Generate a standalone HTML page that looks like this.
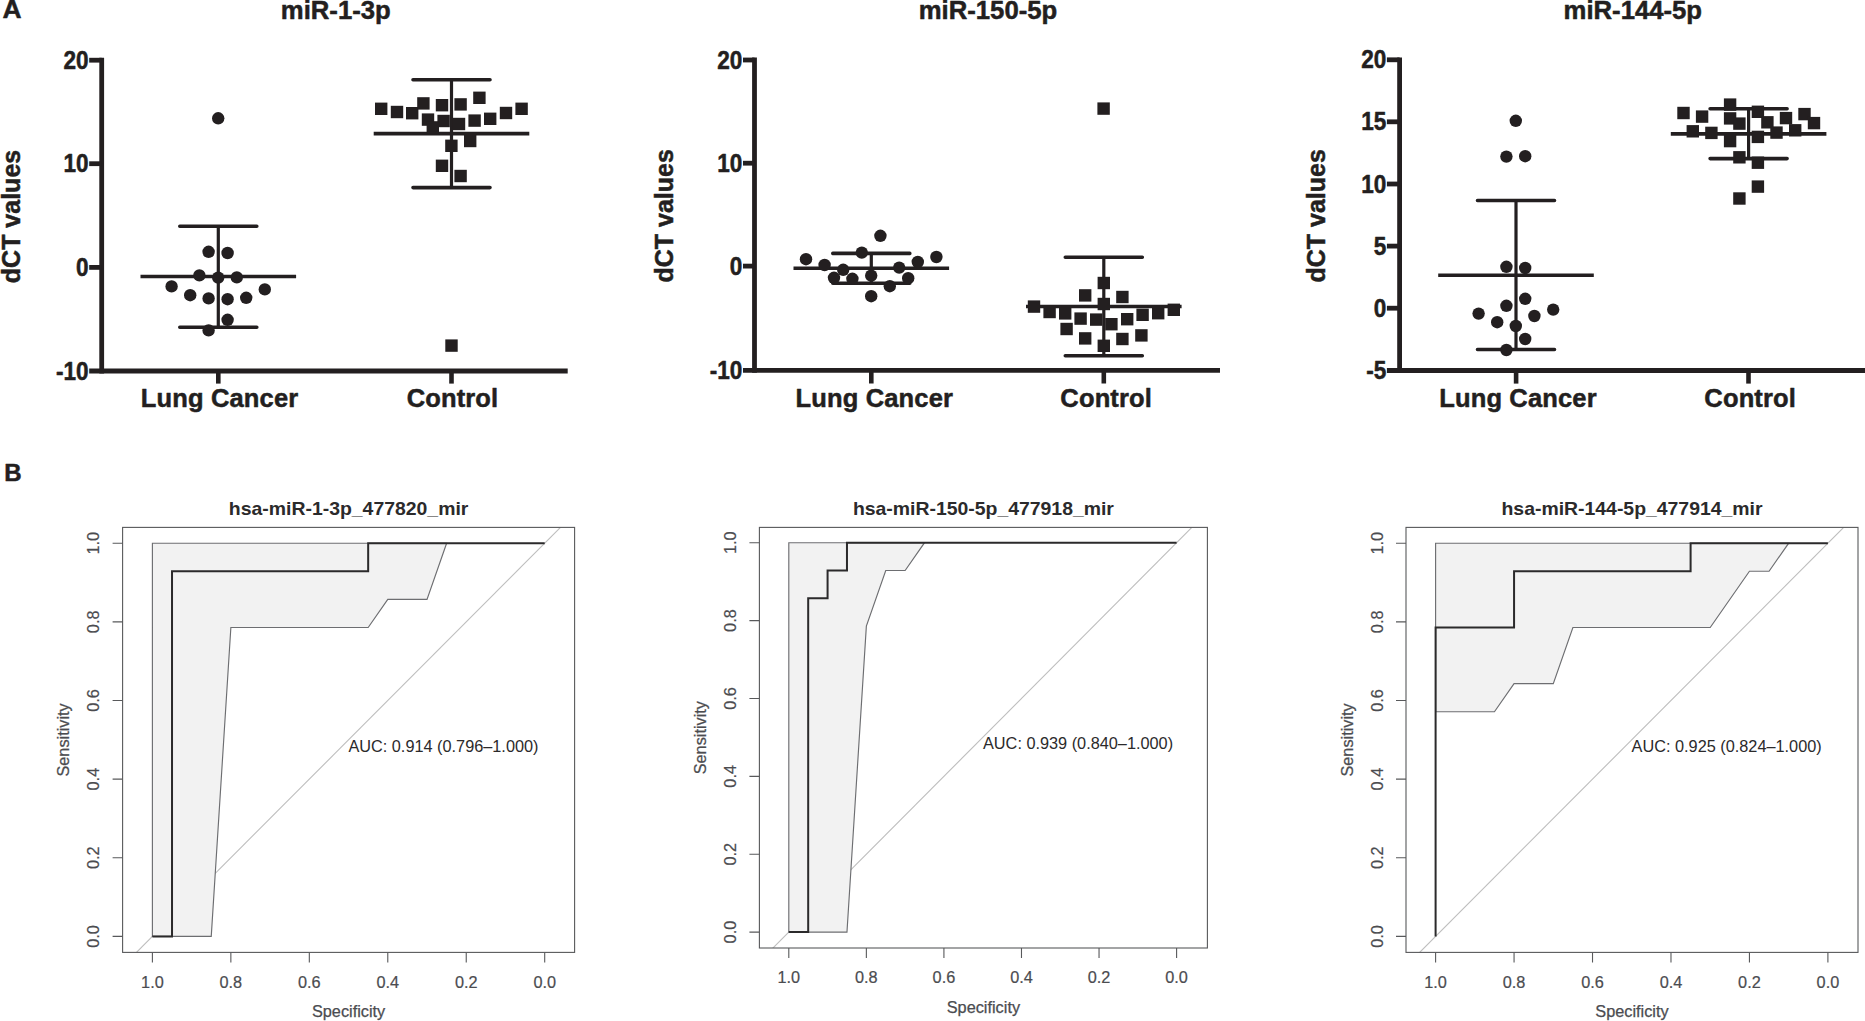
<!DOCTYPE html>
<html lang="en">
<head>
<meta charset="utf-8">
<title>Figure</title>
<style>
html,body{margin:0;padding:0;background:#fff;}
body{width:1865px;height:1021px;overflow:hidden;}
svg{display:block;}
text{font-family:"Liberation Sans",Arial,Helvetica,sans-serif;}
.pl,.ti,.lb,.yl,.tk text{stroke:#231f20;stroke-width:.5px;stroke-linejoin:round;}
.pl{font-weight:bold;font-size:24px;fill:#231f20;}
.ti{font-weight:bold;font-size:25.7px;fill:#231f20;}
.lb{font-weight:bold;font-size:25.5px;fill:#231f20;letter-spacing:.15px;}
.yl{font-weight:bold;font-size:25px;fill:#231f20;}
.tk text{font-weight:bold;font-size:24px;fill:#231f20;}
.rt text{font-size:16.3px;fill:#4b4c50;stroke:#4b4c50;stroke-width:.2px;}
.ra text{font-size:16.3px;fill:#4b4c50;stroke:#4b4c50;stroke-width:.25px;}
.rti{font-weight:bold;font-size:17.5px;fill:#2b2a2b;}
.auc{font-size:16.3px;fill:#2b2a2b;}
</style>
</head>
<body>
<svg width="1865" height="1021" viewBox="0 0 1865 1021">
<rect width="1865" height="1021" fill="#fff"/>
<text class="pl" style="font-size:26.4px" x="2.6" y="17.8">A</text>
<text class="pl" x="4.3" y="481.2">B</text>
<g>
<g stroke="#231f20" stroke-width="4.8" fill="none">
<path d="M101.7 57.8 V373.4"/>
<path d="M89.2 371 H567.7"/>
<path d="M89.2 60.2 H101.7"/>
<path d="M89.2 163.7 H101.7"/>
<path d="M89.2 267.4 H101.7"/>
<path d="M218.3 371 V383.6" stroke-width="4.6"/>
<path d="M451.5 371 V383.6" stroke-width="4.6"/>
</g>
<g class="tk" text-anchor="end">
<text transform="translate(88.6 68.75) scale(0.94 1.04)">20</text>
<text transform="translate(88.6 172.25) scale(0.94 1.04)">10</text>
<text transform="translate(88.6 275.95) scale(0.94 1.04)">0</text>
<text transform="translate(88.6 379.55) scale(0.94 1.04)">-10</text>
</g>
<text class="ti" text-anchor="middle" x="335.8" y="18.9">miR-1-3p</text>
<text class="yl" text-anchor="middle" transform="translate(19.9 216.5) rotate(-90)">dCT values</text>
<text class="lb" text-anchor="middle" x="219.6" y="407">Lung Cancer</text>
<text class="lb" text-anchor="middle" x="452.5" y="407">Control</text>
<g stroke="#231f20" stroke-width="3.6" fill="none">
<path d="M218.3 226.3 V327.3" stroke-width="3.2"/>
<path d="M140.5 276.5 H296.1"/>
<path stroke-linecap="round" d="M179.8 226.3 H256.8 M179.8 327.3 H256.8"/>
</g>
<g fill="#231f20">
<circle cx="218.2" cy="118.3" r="6.2"/>
<circle cx="208.6" cy="251.8" r="6.2"/>
<circle cx="227.6" cy="253" r="6.2"/>
<circle cx="199.4" cy="275.4" r="6.2"/>
<circle cx="218.2" cy="277.6" r="6.2"/>
<circle cx="236.8" cy="277.4" r="6.2"/>
<circle cx="171.6" cy="286.4" r="6.2"/>
<circle cx="264.8" cy="289.4" r="6.2"/>
<circle cx="190.2" cy="295.2" r="6.2"/>
<circle cx="208.6" cy="298.4" r="6.2"/>
<circle cx="227.6" cy="299.2" r="6.2"/>
<circle cx="246.2" cy="297.8" r="6.2"/>
<circle cx="227.6" cy="319.8" r="6.2"/>
<circle cx="208.6" cy="330.4" r="6.2"/>
</g>
<g stroke="#231f20" stroke-width="3.6" fill="none">
<path d="M451.5 79.8 V187.6" stroke-width="3.2"/>
<path d="M373.7 133.6 H529.3"/>
<path stroke-linecap="round" d="M413 79.8 H490 M413 187.6 H490"/>
</g>
<g fill="#231f20">
<rect x="375" y="102.6" width="12.4" height="12.4"/>
<rect x="390.8" y="105.8" width="12.4" height="12.4"/>
<rect x="406" y="107" width="12.4" height="12.4"/>
<rect x="417.2" y="97.2" width="12.4" height="12.4"/>
<rect x="435.8" y="99" width="12.4" height="12.4"/>
<rect x="454.4" y="98.2" width="12.4" height="12.4"/>
<rect x="473.2" y="91.6" width="12.4" height="12.4"/>
<rect x="515.4" y="102.6" width="12.4" height="12.4"/>
<rect x="499.8" y="106.8" width="12.4" height="12.4"/>
<rect x="484" y="112.6" width="12.4" height="12.4"/>
<rect x="468.4" y="114.4" width="12.4" height="12.4"/>
<rect x="421.8" y="113.4" width="12.4" height="12.4"/>
<rect x="437.4" y="114.8" width="12.4" height="12.4"/>
<rect x="452.8" y="117.8" width="12.4" height="12.4"/>
<rect x="426.6" y="121.2" width="12.4" height="12.4"/>
<rect x="464" y="134.8" width="12.4" height="12.4"/>
<rect x="445.2" y="139.6" width="12.4" height="12.4"/>
<rect x="435.8" y="159.6" width="12.4" height="12.4"/>
<rect x="454.4" y="169.8" width="12.4" height="12.4"/>
<rect x="445.3" y="339.4" width="12.4" height="12.4"/>
</g>
</g>
<g>
<g stroke="#231f20" stroke-width="4.8" fill="none">
<path d="M754.5 57.6 V372.8"/>
<path d="M743 370.4 H1220"/>
<path d="M743 60 H754.5"/>
<path d="M743 163.2 H754.5"/>
<path d="M743 266.1 H754.5"/>
<path d="M871.3 370.4 V383.5" stroke-width="4.6"/>
<path d="M1103.8 370.4 V383.5" stroke-width="4.6"/>
</g>
<g class="tk" text-anchor="end">
<text transform="translate(742.4 68.55) scale(0.94 1.04)">20</text>
<text transform="translate(742.4 171.75) scale(0.94 1.04)">10</text>
<text transform="translate(742.4 274.65) scale(0.94 1.04)">0</text>
<text transform="translate(742.4 378.95) scale(0.94 1.04)">-10</text>
</g>
<text class="ti" text-anchor="middle" x="988" y="18.9">miR-150-5p</text>
<text class="yl" text-anchor="middle" transform="translate(672.8 215.8) rotate(-90)">dCT values</text>
<text class="lb" text-anchor="middle" x="874.3" y="407">Lung Cancer</text>
<text class="lb" text-anchor="middle" x="1106.2" y="407">Control</text>
<g stroke="#231f20" stroke-width="3.6" fill="none">
<path d="M871.3 253.4 V283.3" stroke-width="3.2"/>
<path d="M793.5 268.3 H949.1"/>
<path stroke-linecap="round" d="M832.8 253.4 H909.8 M832.8 283.3 H909.8"/>
</g>
<g fill="#231f20">
<circle cx="880.4" cy="235.8" r="6.2"/>
<circle cx="861.8" cy="252.6" r="6.2"/>
<circle cx="806" cy="259.2" r="6.2"/>
<circle cx="936.4" cy="257" r="6.2"/>
<circle cx="824.6" cy="265" r="6.2"/>
<circle cx="917.8" cy="262" r="6.2"/>
<circle cx="843.2" cy="269.8" r="6.2"/>
<circle cx="899.2" cy="267.6" r="6.2"/>
<circle cx="834" cy="277.8" r="6.2"/>
<circle cx="852.4" cy="278.8" r="6.2"/>
<circle cx="871.2" cy="275.6" r="6.2"/>
<circle cx="908.2" cy="278.2" r="6.2"/>
<circle cx="889.8" cy="286.2" r="6.2"/>
<circle cx="871.2" cy="296.2" r="6.2"/>
</g>
<g stroke="#231f20" stroke-width="3.6" fill="none">
<path d="M1103.8 257.3 V355.7" stroke-width="3.2"/>
<path d="M1026 306.5 H1181.6"/>
<path stroke-linecap="round" d="M1065.3 257.3 H1142.3 M1065.3 355.7 H1142.3"/>
</g>
<g fill="#231f20">
<rect x="1097.6" y="276.8" width="12.4" height="12.4"/>
<rect x="1079" y="289.2" width="12.4" height="12.4"/>
<rect x="1116.2" y="290.8" width="12.4" height="12.4"/>
<rect x="1097.6" y="297.8" width="12.4" height="12.4"/>
<rect x="1027.8" y="300.4" width="12.4" height="12.4"/>
<rect x="1167.6" y="303.6" width="12.4" height="12.4"/>
<rect x="1043.4" y="305.8" width="12.4" height="12.4"/>
<rect x="1152" y="307" width="12.4" height="12.4"/>
<rect x="1059" y="307.2" width="12.4" height="12.4"/>
<rect x="1136.4" y="308.6" width="12.4" height="12.4"/>
<rect x="1074.4" y="312.4" width="12.4" height="12.4"/>
<rect x="1121" y="313" width="12.4" height="12.4"/>
<rect x="1090" y="313.4" width="12.4" height="12.4"/>
<rect x="1105.2" y="318" width="12.4" height="12.4"/>
<rect x="1060.4" y="322.8" width="12.4" height="12.4"/>
<rect x="1135.2" y="329.2" width="12.4" height="12.4"/>
<rect x="1079" y="332.2" width="12.4" height="12.4"/>
<rect x="1116.2" y="332.8" width="12.4" height="12.4"/>
<rect x="1097.6" y="339.6" width="12.4" height="12.4"/>
<rect x="1097.4" y="102.4" width="12.4" height="12.4"/>
</g>
</g>
<g>
<g stroke="#231f20" stroke-width="4.8" fill="none">
<path d="M1399.6 57.4 V372.9"/>
<path d="M1386.9 370.5 H1865"/>
<path d="M1386.9 59.8 H1399.6"/>
<path d="M1386.9 121.8 H1399.6"/>
<path d="M1386.9 184 H1399.6"/>
<path d="M1386.9 246.1 H1399.6"/>
<path d="M1386.9 308.2 H1399.6"/>
<path d="M1516.1 370.5 V383.6" stroke-width="4.6"/>
<path d="M1748.5 370.5 V383.6" stroke-width="4.6"/>
</g>
<g class="tk" text-anchor="end">
<text transform="translate(1386.3 68.35) scale(0.94 1.04)">20</text>
<text transform="translate(1386.3 130.35) scale(0.94 1.04)">15</text>
<text transform="translate(1386.3 192.55) scale(0.94 1.04)">10</text>
<text transform="translate(1386.3 254.65) scale(0.94 1.04)">5</text>
<text transform="translate(1386.3 316.75) scale(0.94 1.04)">0</text>
<text transform="translate(1386.3 379.05) scale(0.94 1.04)">-5</text>
</g>
<text class="ti" text-anchor="middle" x="1632.8" y="18.9">miR-144-5p</text>
<text class="yl" text-anchor="middle" transform="translate(1325 215.8) rotate(-90)">dCT values</text>
<text class="lb" text-anchor="middle" x="1518" y="406.5">Lung Cancer</text>
<text class="lb" text-anchor="middle" x="1750.2" y="406.5">Control</text>
<g stroke="#231f20" stroke-width="3.6" fill="none">
<path d="M1516 200.5 V349.5" stroke-width="3.2"/>
<path d="M1438.2 275.2 H1593.8"/>
<path stroke-linecap="round" d="M1477.5 200.5 H1554.5 M1477.5 349.5 H1554.5"/>
</g>
<g fill="#231f20">
<circle cx="1515.8" cy="120.8" r="6.2"/>
<circle cx="1506.4" cy="156.6" r="6.2"/>
<circle cx="1525.2" cy="156.2" r="6.2"/>
<circle cx="1506.4" cy="266.8" r="6.2"/>
<circle cx="1525.2" cy="268" r="6.2"/>
<circle cx="1525.2" cy="298.8" r="6.2"/>
<circle cx="1506.4" cy="305.8" r="6.2"/>
<circle cx="1553.2" cy="309.6" r="6.2"/>
<circle cx="1478.6" cy="313.6" r="6.2"/>
<circle cx="1534.4" cy="316" r="6.2"/>
<circle cx="1497.2" cy="322.2" r="6.2"/>
<circle cx="1515.8" cy="326" r="6.2"/>
<circle cx="1525.2" cy="339" r="6.2"/>
<circle cx="1506.4" cy="350" r="6.2"/>
</g>
<g stroke="#231f20" stroke-width="3.6" fill="none">
<path d="M1748.6 108.7 V158.6" stroke-width="3.2"/>
<path d="M1670.8 133.9 H1826.4"/>
<path stroke-linecap="round" d="M1710.1 108.7 H1787.1 M1710.1 158.6 H1787.1"/>
</g>
<g fill="#231f20">
<rect x="1677.3" y="106.8" width="12.4" height="12.4"/>
<rect x="1695.9" y="110.4" width="12.4" height="12.4"/>
<rect x="1723.9" y="98.4" width="12.4" height="12.4"/>
<rect x="1723.9" y="112.2" width="12.4" height="12.4"/>
<rect x="1733.2" y="117.4" width="12.4" height="12.4"/>
<rect x="1751.7" y="105.6" width="12.4" height="12.4"/>
<rect x="1761.2" y="116.1" width="12.4" height="12.4"/>
<rect x="1779.8" y="111.9" width="12.4" height="12.4"/>
<rect x="1798.3" y="107.9" width="12.4" height="12.4"/>
<rect x="1807.8" y="116.9" width="12.4" height="12.4"/>
<rect x="1686.6" y="125.1" width="12.4" height="12.4"/>
<rect x="1705.2" y="126.7" width="12.4" height="12.4"/>
<rect x="1723.9" y="134.9" width="12.4" height="12.4"/>
<rect x="1751.7" y="130.7" width="12.4" height="12.4"/>
<rect x="1770.3" y="126.4" width="12.4" height="12.4"/>
<rect x="1789" y="124.1" width="12.4" height="12.4"/>
<rect x="1733.2" y="151.1" width="12.4" height="12.4"/>
<rect x="1751.7" y="156.5" width="12.4" height="12.4"/>
<rect x="1751.7" y="180.4" width="12.4" height="12.4"/>
<rect x="1733.2" y="192.3" width="12.4" height="12.4"/>
</g>
</g>
<g>
<clipPath id="c1"><rect x="122.6" y="527.4" width="452" height="425"/></clipPath>
<g clip-path="url(#c1)">
<path d="M73.94 1015.04 L623.16 464.56" stroke="#bdbdbd" stroke-width="1.1" fill="none"/>
</g>
<path d="M152.4 936.4 L152.4 543.2 L446.62 543.2 L446.62 543.2 L427.01 599.37 L387.78 599.37 L368.17 627.46 L230.86 627.46 L211.25 936.4 L152.4 936.4 Z" fill="#f2f2f2" stroke="#6d6e71" stroke-width="1.15" stroke-linejoin="miter"/>
<path d="M152.4 936.4 L172.02 936.4 L172.02 571.29 L368.17 571.29 L368.17 543.2 L544.7 543.2" fill="none" stroke="#2b2a2b" stroke-width="2"/>
<g stroke="#58595b" stroke-width="1.1" fill="none">
<rect x="122.6" y="527.4" width="452" height="425"/>
<path d="M152.4 952.4 v10 M122.6 543.2 h-10 M230.86 952.4 v10 M122.6 621.84 h-10 M309.32 952.4 v10 M122.6 700.48 h-10 M387.78 952.4 v10 M122.6 779.12 h-10 M466.24 952.4 v10 M122.6 857.76 h-10 M544.7 952.4 v10 M122.6 936.4 h-10"/>
</g>
<g class="rt" text-anchor="middle">
<text x="152.4" y="987.6">1.0</text>
<text x="230.86" y="987.6">0.8</text>
<text x="309.32" y="987.6">0.6</text>
<text x="387.78" y="987.6">0.4</text>
<text x="466.24" y="987.6">0.2</text>
<text x="544.7" y="987.6">0.0</text>
<text transform="translate(99.3 543.2) rotate(-90)">1.0</text>
<text transform="translate(99.3 621.84) rotate(-90)">0.8</text>
<text transform="translate(99.3 700.48) rotate(-90)">0.6</text>
<text transform="translate(99.3 779.12) rotate(-90)">0.4</text>
<text transform="translate(99.3 857.76) rotate(-90)">0.2</text>
<text transform="translate(99.3 936.4) rotate(-90)">0.0</text>
</g>
<g class="ra" text-anchor="middle">
<text x="348.6" y="1017.4">Specificity</text>
<text transform="translate(69.4 739.9) rotate(-90)">Sensitivity</text>
</g>
<text class="rti" text-anchor="middle" transform="translate(348.6 514.7) scale(1.11 1)">hsa-miR-1-3p_477820_mir</text>
<text class="auc" x="348.4" y="752">AUC: 0.914 (0.796–1.000)</text>
</g>
<g>
<clipPath id="c2"><rect x="759.4" y="527.4" width="448" height="420.6"/></clipPath>
<g clip-path="url(#c2)">
<path d="M711.24 1009.98 L1254.16 464.82" stroke="#bdbdbd" stroke-width="1.1" fill="none"/>
</g>
<path d="M788.8 932.1 L788.8 542.7 L924.53 542.7 L924.53 542.7 L905.14 570.51 L885.75 570.51 L866.36 626.14 L846.97 932.1 L788.8 932.1 Z" fill="#f2f2f2" stroke="#6d6e71" stroke-width="1.15" stroke-linejoin="miter"/>
<path d="M788.8 932.1 L808.19 932.1 L808.19 598.33 L827.58 598.33 L827.58 570.51 L846.97 570.51 L846.97 542.7 L1176.6 542.7" fill="none" stroke="#2b2a2b" stroke-width="2"/>
<g stroke="#58595b" stroke-width="1.1" fill="none">
<rect x="759.4" y="527.4" width="448" height="420.6"/>
<path d="M788.8 948 v10 M759.4 542.7 h-10 M866.36 948 v10 M759.4 620.58 h-10 M943.92 948 v10 M759.4 698.46 h-10 M1021.48 948 v10 M759.4 776.34 h-10 M1099.04 948 v10 M759.4 854.22 h-10 M1176.6 948 v10 M759.4 932.1 h-10"/>
</g>
<g class="rt" text-anchor="middle">
<text x="788.8" y="983.2">1.0</text>
<text x="866.36" y="983.2">0.8</text>
<text x="943.92" y="983.2">0.6</text>
<text x="1021.48" y="983.2">0.4</text>
<text x="1099.04" y="983.2">0.2</text>
<text x="1176.6" y="983.2">0.0</text>
<text transform="translate(736.1 542.7) rotate(-90)">1.0</text>
<text transform="translate(736.1 620.58) rotate(-90)">0.8</text>
<text transform="translate(736.1 698.46) rotate(-90)">0.6</text>
<text transform="translate(736.1 776.34) rotate(-90)">0.4</text>
<text transform="translate(736.1 854.22) rotate(-90)">0.2</text>
<text transform="translate(736.1 932.1) rotate(-90)">0.0</text>
</g>
<g class="ra" text-anchor="middle">
<text x="983.4" y="1013">Specificity</text>
<text transform="translate(706.2 737.7) rotate(-90)">Sensitivity</text>
</g>
<text class="rti" text-anchor="middle" transform="translate(983.4 514.7) scale(1.11 1)">hsa-miR-150-5p_477918_mir</text>
<text class="auc" x="983" y="749.4">AUC: 0.939 (0.840–1.000)</text>
</g>
<g>
<clipPath id="c3"><rect x="1406" y="527.4" width="452" height="425"/></clipPath>
<g clip-path="url(#c3)">
<path d="M1357.14 1015.04 L1906.36 464.56" stroke="#bdbdbd" stroke-width="1.1" fill="none"/>
</g>
<path d="M1435.6 543.2 L1788.67 543.2 L1788.67 543.2 L1769.06 571.29 L1749.44 571.29 L1710.21 627.46 L1572.9 627.46 L1553.29 683.63 L1514.06 683.63 L1494.44 711.71 L1435.6 711.71 Z" fill="#f2f2f2" stroke="#6d6e71" stroke-width="1.15" stroke-linejoin="miter"/>
<path d="M1435.6 936.4 L1435.6 627.46 L1514.06 627.46 L1514.06 571.29 L1690.6 571.29 L1690.6 543.2 L1827.9 543.2" fill="none" stroke="#2b2a2b" stroke-width="2"/>
<g stroke="#58595b" stroke-width="1.1" fill="none">
<rect x="1406" y="527.4" width="452" height="425"/>
<path d="M1435.6 952.4 v10 M1406 543.2 h-10 M1514.06 952.4 v10 M1406 621.84 h-10 M1592.52 952.4 v10 M1406 700.48 h-10 M1670.98 952.4 v10 M1406 779.12 h-10 M1749.44 952.4 v10 M1406 857.76 h-10 M1827.9 952.4 v10 M1406 936.4 h-10"/>
</g>
<g class="rt" text-anchor="middle">
<text x="1435.6" y="987.6">1.0</text>
<text x="1514.06" y="987.6">0.8</text>
<text x="1592.52" y="987.6">0.6</text>
<text x="1670.98" y="987.6">0.4</text>
<text x="1749.44" y="987.6">0.2</text>
<text x="1827.9" y="987.6">0.0</text>
<text transform="translate(1382.7 543.2) rotate(-90)">1.0</text>
<text transform="translate(1382.7 621.84) rotate(-90)">0.8</text>
<text transform="translate(1382.7 700.48) rotate(-90)">0.6</text>
<text transform="translate(1382.7 779.12) rotate(-90)">0.4</text>
<text transform="translate(1382.7 857.76) rotate(-90)">0.2</text>
<text transform="translate(1382.7 936.4) rotate(-90)">0.0</text>
</g>
<g class="ra" text-anchor="middle">
<text x="1632" y="1017.4">Specificity</text>
<text transform="translate(1352.8 739.9) rotate(-90)">Sensitivity</text>
</g>
<text class="rti" text-anchor="middle" transform="translate(1632 514.7) scale(1.11 1)">hsa-miR-144-5p_477914_mir</text>
<text class="auc" x="1631.6" y="752">AUC: 0.925 (0.824–1.000)</text>
</g>
</svg>
</body>
</html>
